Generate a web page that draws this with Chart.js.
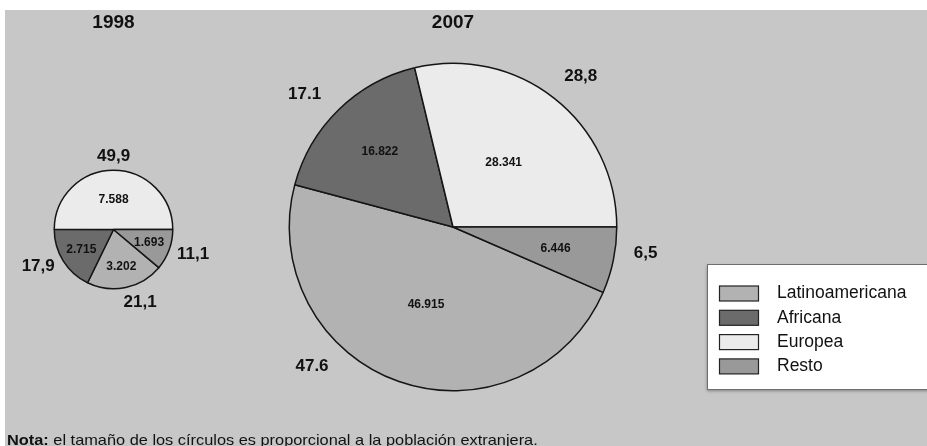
<!DOCTYPE html>
<html>
<head>
<meta charset="utf-8">
<script src="https://cdn.jsdelivr.net/npm/chart.js@4.4.1/dist/chart.umd.min.js"></script>
<style>
  body { margin: 0; background: #fff; }
  #lienzo { position: relative; width: 927px; height: 446px; overflow: hidden; }
  #fondo { position: absolute; left: 5px; top: 10px; width: 922px; height: 436px; background: #c7c7c7; }
  #lienzo canvas { position: absolute; left: 0; top: 0; }
</style>
</head>
<body>
<div id="lienzo">
  <div id="fondo"></div>
  <canvas id="pie1998" width="927" height="446"></canvas>
  <canvas id="pie2007" width="927" height="446"></canvas>
</div>
<script>
var categorias = ["Latinoamericana", "Africana", "Europea", "Resto"];
var poblacion1998 = [3202, 2715, 7588, 1693];
var poblacion2007 = [46915, 16822, 28341, 6446];
var porcentaje1998 = ["21,1", "17,9", "49,9", "11,1"];
var porcentaje2007 = ["47.6", "17.1", "28,8", "6,5"];

var colores = ["#b2b2b2", "#6b6b6b", "#ebebeb", "#999999"];
var fuente = '"Liberation Sans", Arial, sans-serif';
var W = 927, H = 446;

function miles(n) {
    return String(n).replace(/\B(?=(\d{3})+(?!\d))/g, ".");
}

function suma(arr) {
    return arr.reduce(function (a, b) { return a + b; }, 0);
}

/*
** Rótulos de cada tarta: valor dentro, porcentaje fuera y el año encima
*/
function rotulos(titulo, porcentajes, giro) {
    return {
        id: "rotulos",
        afterDatasetsDraw: function (chart) {
            var ctx = chart.ctx;
            var meta = chart.getDatasetMeta(0);
            var valores = chart.data.datasets[0].data;
            var total = suma(valores);
            ctx.save();
            ctx.fillStyle = "#111";
            ctx.textAlign = "center";
            ctx.textBaseline = "middle";
            meta.data.forEach(function (arc, i) {
                var p = arc.getProps(["x", "y", "startAngle", "endAngle", "outerRadius"], true);
                var medio = (p.startAngle + p.endAngle) / 2;
                var f = valores[i] / total > 0.25 ? 0.5 : 0.64;
                ctx.font = "bold 12px " + fuente;
                ctx.fillText(miles(valores[i]),
                    p.x + Math.cos(medio) * p.outerRadius * f,
                    p.y + Math.sin(medio) * p.outerRadius * f);

                var ang = medio + (giro[i] || 0) * Math.PI / 180;
                ctx.font = "bold 17px " + fuente;
                var txt = porcentajes[i];
                var w = ctx.measureText(txt).width / 2;
                var dx = Math.cos(ang), dy = Math.sin(ang);
                var d = p.outerRadius * 1.11 + Math.abs(dx) * w + Math.abs(dy) * 7;
                ctx.fillText(txt, p.x + dx * d, p.y + dy * d);
            });
            ctx.font = "bold 19px " + fuente;
            ctx.fillText(titulo, meta.data[0].x, 23);
            ctx.restore();
        }
    };
}

/*
** Leyenda en recuadro y nota al pie
*/
var leyenda = {
    id: "leyenda",
    afterDraw: function (chart) {
        var ctx = chart.ctx;
        var ds = chart.data.datasets[0];
        ctx.save();
        ctx.shadowColor = "rgba(0,0,0,0.35)";
        ctx.shadowBlur = 3;
        ctx.shadowOffsetY = 2;
        ctx.fillStyle = "#fff";
        ctx.fillRect(707, 264, 240, 125);
        ctx.shadowColor = "transparent";
        ctx.strokeStyle = "#6e6e6e";
        ctx.lineWidth = 1;
        ctx.strokeRect(707.5, 264.5, 240, 125);

        ctx.textBaseline = "middle";
        ctx.textAlign = "left";
        ctx.font = "17.5px " + fuente;
        chart.data.labels.forEach(function (lab, i) {
            var y = 293.5 + i * 24.3;
            ctx.fillStyle = ds.backgroundColor[i];
            ctx.fillRect(719.5, y - 7.5, 39, 15);
            ctx.strokeStyle = "#222";
            ctx.lineWidth = 1.2;
            ctx.strokeRect(719.5, y - 7.5, 39, 15);
            ctx.fillStyle = "#111";
            ctx.fillText(lab, 777, y);
        });

        // la nota va algo estirada a lo ancho
        ctx.translate(7, 445);
        ctx.scale(1.09, 1);
        ctx.textBaseline = "alphabetic";
        ctx.font = "bold 15px " + fuente;
        ctx.fillStyle = "#111";
        ctx.fillText("Nota:", 0, 0);
        var x = ctx.measureText("Nota:").width;
        ctx.font = "15px " + fuente;
        ctx.fillText(" el tamaño de los círculos es proporcional a la población extranjera.", x, 0);
        ctx.restore();
    }
};

function tarta(id, valores, titulo, porcentajes, cx, cy, r, giro, extras) {
    // Resto arranca en las 3 en punto y el giro sigue las agujas del reloj
    var inicio = 90 + 360 * valores[3] / suma(valores);
    return new Chart(document.getElementById(id), {
        type: "pie",
        data: {
            labels: categorias,
            datasets: [{
                data: valores,
                backgroundColor: colores,
                borderColor: "#151515",
                borderWidth: 1.5
            }]
        },
        options: {
            responsive: false,
            animation: false,
            rotation: inicio,
            layout: {
                padding: { left: cx - r, right: W - cx - r, top: cy - r, bottom: H - cy - r }
            },
            plugins: {
                legend: { display: false },
                tooltip: { enabled: false }
            }
        },
        plugins: [rotulos(titulo, porcentajes, giro)].concat(extras)
    });
}

tarta("pie1998", poblacion1998, "1998", porcentaje1998, 113.5, 229.5, 60, [-8, 6, 0, -3], []);
tarta("pie2007", poblacion2007, "2007", porcentaje2007, 453, 227, 164.5, [26, -4, 2, -4], [leyenda]);
</script>
</body>
</html>
